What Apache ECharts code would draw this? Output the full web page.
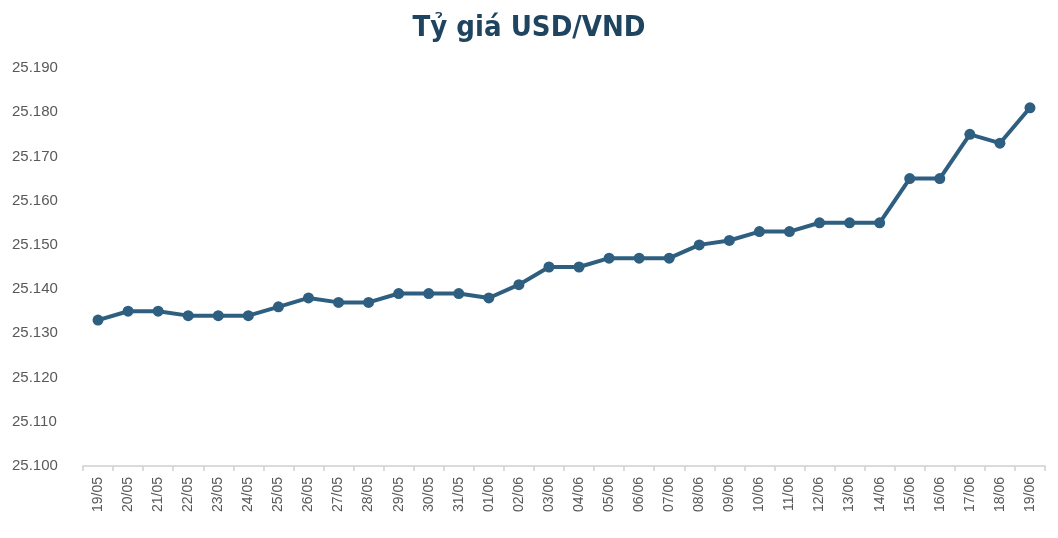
<!DOCTYPE html>
<html>
<head>
<meta charset="utf-8">
<script src="https://cdn.jsdelivr.net/npm/echarts@6/dist/echarts.min.js"></script>
<style>
  html, body { margin: 0; padding: 0; background: #fff; }
  #main { width: 1058px; height: 538px; }
</style>
</head>
<body>
<div id="main"></div>
<script>
// ngày giao dịch
var dates = ['19/05','20/05','21/05','22/05','23/05','24/05','25/05','26/05','27/05','28/05',
  '29/05','30/05','31/05','01/06','02/06','03/06','04/06','05/06','06/06','07/06','08/06',
  '09/06','10/06','11/06','12/06','13/06','14/06','15/06','16/06','17/06','18/06','19/06'];
// tỷ giá
var rates = [25133,25135,25135,25134,25134,25134,25136,25138,25137,25137,
  25139,25139,25139,25138,25141,25145,25145,25147,25147,25147,25150,
  25151,25153,25153,25155,25155,25155,25165,25165,25175,25173,25181];
var yMin = 25100, yMax = 25190, yStep = 10;

function fmt(v) {
  var k = Math.floor(v / 1000);
  var r = String(v % 1000);
  while (r.length < 3) r = '0' + r;
  return k + '.' + r;
}

var chart = echarts.init(document.getElementById('main'));
var option = {
  animation: false,
  title: {
    text: 'Tỷ giá USD/VND',
    left: 'center',
    top: 9,
    textStyle: {
      fontFamily: '"Liberation Sans Narrow", "DejaVu Sans Condensed", "Noto Sans", sans-serif',
      fontWeight: 'bold',
      fontSize: 29,
      color: '#1f4460'
    }
  },
  grid: { left: 83, right: 13, top: 68, bottom: 72 },
  xAxis: {
    type: 'category',
    data: dates,
    boundaryGap: true,
    axisLine: { lineStyle: { color: '#d0d0d0', width: 1.5 } },
    axisTick: { show: true, length: 5, lineStyle: { color: '#d0d0d0', width: 1.5 } },
    axisLabel: {
      rotate: 90,
      interval: 0,
      fontFamily: '"Liberation Sans", Arial, sans-serif',
      fontSize: 14,
      color: '#595959',
      margin: 11
    }
  },
  yAxis: {
    type: 'value',
    min: yMin,
    max: yMax,
    interval: yStep,
    axisLine: { show: false },
    axisTick: { show: false },
    splitLine: { show: false },
    axisLabel: {
      formatter: fmt,
      align: 'left',
      margin: 71,
      fontFamily: '"Liberation Sans", Arial, sans-serif',
      fontSize: 15,
      color: '#595959'
    }
  },
  series: [{
    type: 'line',
    data: rates,
    symbol: 'circle',
    symbolSize: 11,
    lineStyle: { color: '#2e5f80', width: 4 },
    itemStyle: { color: '#2e5f80' }
  }]
};
chart.setOption(option);
</script>
</body>
</html>
